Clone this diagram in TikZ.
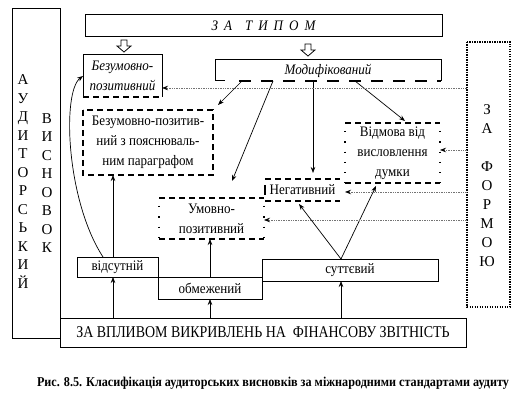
\documentclass[tikz,border=0pt]{standalone}
\usepackage{fontspec}
\setmainfont{Liberation Serif}
\newfontfamily\cond[FakeStretch=0.9]{Liberation Serif}
\newfontfamily\condb[FakeStretch=0.85]{Liberation Serif}
\usetikzlibrary{calc,arrows.meta}
\begin{document}
\begin{tikzpicture}[x=1pt,y=-1pt,
  area/.style={rectangle,inner sep=0pt,outer sep=0pt,align=center},
  fnt/.style={font=\cond\fontsize{14.5}{20}\selectfont},
  ifnt/.style={font=\cond\fontsize{14.5}{20}\selectfont\itshape},
  thinline/.style={line width=0.7pt},
  dsh/.style={line width=1.5pt,dash pattern=on 6pt off 4pt},
  sparse/.style={line width=1.3pt,dash pattern=on 1.3pt off 9pt},
  dense/.style={line width=1.2pt,dash pattern=on 1.1pt off 1.4pt},
  arr/.style={line width=0.7pt,-{Stealth[length=6pt,width=4.5pt]}},
  darr/.style={line width=0.7pt,black!55,dash pattern=on 0.8pt off 0.9pt,-{Stealth[length=6pt,width=4.5pt,black]}},
  hollow/.style={line width=0.8pt,fill=white},
]
\useasboundingbox (0,0) rectangle (519,411);

% boxes
\node[area,minimum width=48pt,minimum height=329pt] (aud) at (36,173.5) {};
\node[area,minimum width=357pt,minimum height=22pt,ifnt] (tip) at (263.5,26)
  {З\hspace{6pt}А\hspace{13pt}Т\hspace{6pt}И\hspace{6pt}П\hspace{6pt}О\hspace{6pt}М};
\node[area,minimum width=79pt,minimum height=42pt,ifnt] (bp) at (122.5,76) {Безумовно-\\позитивний};
\node[area,minimum width=226pt,minimum height=21pt,ifnt] (mod) at (328,70.5) {Модифікований};
\node[area,minimum width=130pt,minimum height=65pt,fnt] (bpp) at (148,142.5) {Безумовно-позитив-\\ний з пояснюваль-\\ним параграфом};
\node[area,minimum width=95pt,minimum height=60pt,fnt] (vid) at (392.5,153) {Відмова від\\висловлення\\думки};
\node[area,minimum width=75pt,minimum height=22pt,fnt] (neg) at (302.5,190) {Негативний};
\node[area,minimum width=105pt,minimum height=41pt,fnt] (um) at (211.5,218.5) {Умовно-\\позитивний};
\node[area,minimum width=81pt,minimum height=20pt,fnt] (vids) at (117.5,267) {відсутній};
\node[area,minimum width=104pt,minimum height=22pt,fnt] (obm) at (210,288) {обмежений};
\node[area,minimum width=176pt,minimum height=22pt,fnt] (sut) at (350,270) {суттєвий};
\node[area,minimum width=406pt,minimum height=29pt,font=\condb\fontsize{16.4}{18}\selectfont] (vpl) at (263,332.5) {ЗА ВПЛИВОМ ВИКРИВЛЕНЬ НА \ ФІНАНСОВУ ЗВІТНІСТЬ};
\node[area,minimum width=43pt,minimum height=265pt] (form) at (488.5,174.5) {};

% vertical letter columns
\node[area,font=\fontsize{15}{18.5}\selectfont] (audA) at (23,181.5) {А\\У\\Д\\И\\Т\\О\\Р\\С\\Ь\\К\\И\\Й};
\node[area,font=\fontsize{15}{18.5}\selectfont] (audB) at (47,183) {В\\И\\С\\Н\\О\\В\\О\\К};
\node[area,font=\fontsize{15}{19}\selectfont] (formT) at (487,186) {З\\А\\\mbox{}\\Ф\\О\\Р\\М\\О\\Ю};

% caption
\node[area,font=\cond\fontsize{13.5}{15}\selectfont\bfseries] (cap) at (273,383)
  {Рис. 8.5. Класифікація аудиторських висновків за міжнародними стандартами аудиту};

% borders
\draw[line width=1pt] (aud.north west) rectangle (aud.south east);
\draw[line width=1pt] (tip.north west) rectangle (tip.south east);
\draw[line width=1pt] (bp.south west) -- (bp.north west) -- (bp.north east) -- (bp.south east);
\draw[dsh] (bp.south west) -- (bp.south east);
\draw[line width=1pt] ($(mod.south west)+(10,0)$) -- (mod.south west) -- (mod.north west) -- (mod.north east) -- (mod.south east);
\draw[line width=1.5pt,dash pattern=on 12pt off 10pt] ($(mod.south west)+(24,0)$) -- (mod.south east);
\draw[dsh] (bpp.north west) rectangle (bpp.south east);
\draw[dsh] (vid.north west) -- (vid.north east) (vid.south west) -- (vid.south east);
\draw[sparse] ($(vid.north west)+(0,8)$) -- (vid.south west) ($(vid.north east)+(0,8)$) -- (vid.south east);
\draw[dsh] (neg.north west) -- (neg.north east) (neg.south west) -- (neg.south east);
\draw[line width=1.5pt] ($(neg.west)+(0,-5)$) -- ($(neg.west)+(0,5)$);
\draw[dsh] (um.north west) -- (um.north east) (um.south west) -- (um.south east);
\draw[sparse] ($(um.north west)+(0,8)$) -- (um.south west) ($(um.north east)+(0,8)$) -- (um.south east);
\draw[thinline] (vids.north west) rectangle (vids.south east);
\draw[thinline] (obm.north west) rectangle (obm.south east);
\draw[thinline] (sut.north west) rectangle (sut.south east);
\draw[thinline] (vpl.north west) rectangle (vpl.south east);
\draw[dense] (form.north west) rectangle (form.south east);

% hollow block arrows
\draw[hollow] (121,40) -- (127,40) -- (127,46) -- (131,46) -- (124,52) -- (117,46) -- (121,46) -- cycle;
\draw[hollow] (305,44) -- (311,44) -- (311,50) -- (315,50) -- (308,56) -- (301,50) -- (305,50) -- cycle;

% helper x positions
\coordinate (x113) at (113,0);
\coordinate (x103) at (103,0);
\coordinate (x341) at (341,0);
\coordinate (x299) at (299,0);
\coordinate (x376) at (376,0);
\coordinate (x313) at (313,0);
\coordinate (x242) at (242,0);
\coordinate (x273) at (273,0);
\coordinate (x355) at (355,0);
\coordinate (y88) at (0,88);
\coordinate (y150) at (0,150);
\coordinate (y192) at (0,192);
\coordinate (y220) at (0,220);
\coordinate (pk) at (341,259);
\coordinate (umtip) at (232,181);
\coordinate (vidtip) at (405,121);
\coordinate (negtip) at (313,173);
\coordinate (bpptip) at (218,105);

% arrows from the bottom box
\draw[arr] (vpl.north -| x113) -- (vids.south -| x113);
\draw[arr] (vpl.north -| obm) -- (obm.south);
\draw[arr] (vpl.north -| x341) -- (sut.south -| x341);
% from the small boxes
\draw[arr] (vids.north -| x113) -- (bpp.south -| x113);
\draw[arr] (vids.north -| x103) .. controls (66,200) and (62,92) .. (bp.west);
\draw[arr] (obm.north) -- (um.south -| obm);
\draw[arr] (pk) -- ($(neg.south -| x299)+(0,3)$);
\draw[arr] (pk) -- ($(vid.south -| x376)+(0,3)$);
% from Модифікований
\draw[arr] (mod.south -| x242) -- (bpptip);
\draw[arr] (mod.south -| x273) -- (umtip);
\draw[arr] (mod.south -| x313) -- (negtip);
\draw[arr] (mod.south -| x355) -- (vidtip);
% from ЗА ФОРМОЮ
\draw[darr] (form.west |- y88) -- (bp.east |- y88);
\draw[darr] (form.west |- y150) -- (vid.east |- y150);
\draw[darr] (form.west |- y192) -- (vid.west |- y192);
\draw[darr] (form.west |- y220) -- (um.east |- y220);
\end{tikzpicture}
\end{document}
